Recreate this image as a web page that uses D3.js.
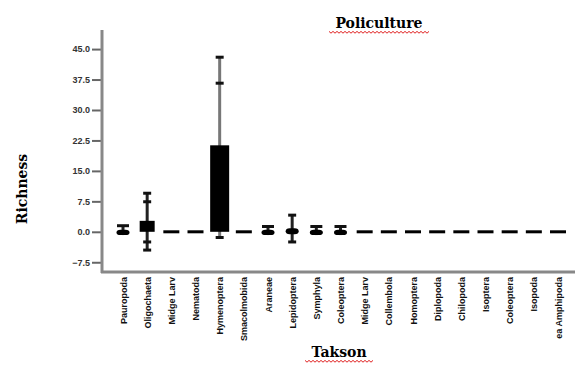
<!DOCTYPE html>
<html>
<head>
<meta charset="utf-8">
<script src="https://cdn.jsdelivr.net/npm/d3@7"></script>
<style>
  body { margin: 0; background: #fff; }
  svg { display: block; }
</style>
</head>
<body>
<svg id="chart" width="576" height="367"></svg>
<script>
// taxa on the x axis (order as in the figure)
var taxa = ["Pauropoda", "Oligochaeta", "Midge Larv", "Nematoda", "Hymenoptera", "Smacolmobida",
  "Araneae", "Lepidoptera", "Symphyla", "Coleoptera", "Midge Larv", "Collembola", "Homoptera",
  "Diplopoda", "Chilopoda", "Isoptera", "Coleoptera", "Isopoda", "ea Amphipoda"];

// box-plot values (richness)
var lowWhisker  = [-0.8, -4.5, 0, 0, -1.4, 0, -0.8, -2.5, -0.8, -0.8, 0, 0, 0, 0, 0, 0, 0, 0, 0];
var lowMark     = [null, -2.5, null, null, null, null, null, null, null, null, null, null, null, null, null, null, null, null, null];
var q1          = [-0.8, 0, 0, 0, 0, 0, -0.8, -0.6, -0.8, -0.8, 0, 0, 0, 0, 0, 0, 0, 0, 0];
var q3          = [0.5, 2.7, 0, 0, 21.3, 0, 0.5, 0.9, 0.5, 0.5, 0, 0, 0, 0, 0, 0, 0, 0, 0];
var highMark    = [null, 7.4, null, null, 36.6, null, null, null, null, null, null, null, null, null, null, null, null, null, null];
var highWhisker = [1.5, 9.5, 0, 0, 43.0, 0, 1.3, 4.1, 1.3, 1.3, 0, 0, 0, 0, 0, 0, 0, 0, 0];

var yTicks = [-7.5, 0, 7.5, 15, 22.5, 30, 37.5, 45];

var svg = d3.select("#chart");

var x = d3.scalePoint().domain(d3.range(taxa.length)).range([123, 558]);
var y = d3.scaleLinear().domain([-9.9, 49.7]).range([272, 30]);

var rows = taxa.map(function (t, i) {
  return { i: i, name: t, lo: lowWhisker[i], lm: lowMark[i], q1: q1[i], q3: q3[i], hm: highMark[i], hi: highWhisker[i] };
});

// y axis
var yAxis = d3.axisLeft(y).tickValues(yTicks).tickFormat(d3.format(".1f")).tickSize(10).tickPadding(2);
var gy = svg.append("g").attr("transform", "translate(102,0)").call(yAxis);
gy.select(".domain").remove();
gy.selectAll(".tick line").attr("stroke", "#666").attr("stroke-width", 2);
gy.selectAll(".tick text").attr("fill", "#333").style("font-family", "'Liberation Sans Narrow', 'Liberation Sans', sans-serif")
  .style("font-size", "9px").style("font-weight", "bold");

// axis frame lines
svg.append("line").attr("x1", 102).attr("x2", 102).attr("y1", 30).attr("y2", 273)
  .attr("stroke", "#888").attr("stroke-width", 3);
svg.append("line").attr("x1", 101).attr("x2", 575).attr("y1", 272).attr("y2", 272)
  .attr("stroke", "#888").attr("stroke-width", 3);

// x labels
var xAxis = d3.axisBottom(x).tickFormat(function (d) { return taxa[d]; }).tickSize(0);
var gx = svg.append("g").attr("transform", "translate(0,274)").call(xAxis);
gx.select(".domain").remove();
gx.selectAll(".tick text")
  .attr("transform", "rotate(-90)")
  .attr("text-anchor", "end")
  .attr("x", -3).attr("y", 0).attr("dy", "0.35em")
  .attr("fill", "#111")
  .style("font-family", "'Liberation Sans Narrow', 'Liberation Sans', sans-serif")
  .style("font-size", "9px").style("font-weight", "bold");

// whiskers
var g = svg.append("g");
var withWhisk = rows.filter(function (d) { return d.hi !== d.lo; });
g.selectAll("line.whisk").data(withWhisk).enter().append("line")
  .attr("class", "whisk")
  .attr("x1", function (d) { return x(d.i); }).attr("x2", function (d) { return x(d.i); })
  .attr("y1", function (d) { return y(d.lo); }).attr("y2", function (d) { return y(d.hi); })
  .attr("stroke", function (d) { return d.hi > 20 ? "#777" : "#222"; })
  .attr("stroke-width", 3);

// caps
var caps = [];
withWhisk.forEach(function (d) {
  caps.push({ i: d.i, v: d.hi, w: d.hi > 3 ? 8 : 12 });
  if (d.lo < d.q1) caps.push({ i: d.i, v: d.lo, w: 8 });
  if (d.hm != null) caps.push({ i: d.i, v: d.hm, w: 8 });
  if (d.lm != null) caps.push({ i: d.i, v: d.lm, w: 8 });
});
g.selectAll("line.cap").data(caps).enter().append("line")
  .attr("class", "cap")
  .attr("x1", function (d) { return x(d.i) - d.w / 2; }).attr("x2", function (d) { return x(d.i) + d.w / 2; })
  .attr("y1", function (d) { return y(d.v); }).attr("y2", function (d) { return y(d.v); })
  .attr("stroke", "#111").attr("stroke-width", 3);

// boxes (flat boxes drawn as dashes)
function boxW(d) { return d.hi === d.lo ? 16 : (d.q3 > 10 ? 19 : (d.q3 > 1 ? 15 : 13)); }
g.selectAll("rect.box").data(rows).enter().append("rect")
  .attr("class", "box")
  .attr("x", function (d) { return x(d.i) - boxW(d) / 2; })
  .attr("width", boxW)
  .attr("y", function (d) { return d.q3 === d.q1 ? y(0) - 1.5 : y(d.q3); })
  .attr("height", function (d) { return d.q3 === d.q1 ? 3 : y(d.q1) - y(d.q3); })
  .attr("rx", function (d) { return d.q3 > 0 && d.q3 < 1 ? 4 : 0; })
  .attr("fill", "#000");

// titles
var serif = "'DejaVu Serif', 'Liberation Serif', serif";
svg.append("text").attr("x", 379).attr("y", 28).attr("text-anchor", "middle")
  .style("font-family", serif).style("font-weight", "bold").style("font-size", "14px")
  .text("Policulture");
svg.append("text").attr("x", 339).attr("y", 357).attr("text-anchor", "middle")
  .style("font-family", serif).style("font-weight", "bold").style("font-size", "14px")
  .text("Takson");
svg.append("text").attr("transform", "translate(27,189) rotate(-90)").attr("text-anchor", "middle")
  .style("font-family", serif).style("font-weight", "bold").style("font-size", "14px")
  .text("Richness");

// red spell-check squiggles under the titles
function squiggle(x0, x1, yy) {
  var pts = [];
  for (var k = 0; x0 + k * 2 <= x1; k++) pts.push([x0 + k * 2, yy + (k % 2 ? 1.2 : -0.6)]);
  svg.append("path").attr("d", d3.line()(pts)).attr("fill", "none").attr("stroke", "#e02020").attr("stroke-width", 1);
}
squiggle(329, 430, 32);
squiggle(305, 373, 361);
</script>
</body>
</html>
